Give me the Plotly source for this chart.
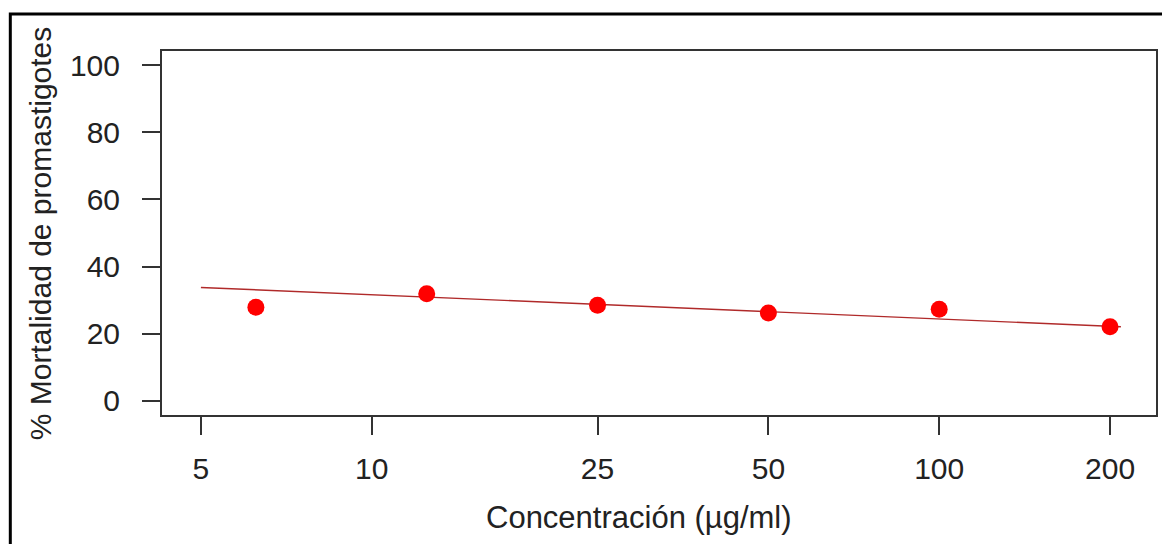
import math
import plotly.graph_objects as go

# Data
conc = [6.25, 12.5, 25, 50, 100, 200]
mortality = [27.9, 31.9, 28.5, 26.2, 27.3, 22.1]
fit_x = [5, 209]
fit_y = [33.8, 22.1]
x_ticks = [5, 10, 25, 50, 100, 200]
x_ticktext = ["5", "10", "25", "50", "100", "200"]
y_ticks = [0, 20, 40, 60, 80, 100]

FONT = "Liberation Sans, Arial, Helvetica, sans-serif"
TXT = "#222222"
OFF = 8  # page body margin
W, H = 1170 - OFF, 544 - OFF
L, T = 162 - OFF, 51 - OFF
R = W - (1158 - OFF)
B = H - (415 - OFF)
pw = W - L - R
ph = H - T - B

fig = go.Figure()
fig.add_trace(go.Scatter(x=fit_x, y=fit_y, mode="lines",
                         line=dict(color="#b02a2a", width=1.4),
                         showlegend=False, hoverinfo="skip"))
fig.add_trace(go.Scatter(x=conc, y=mortality, mode="markers",
                         marker=dict(color="#ff0000", size=17, line=dict(width=0)),
                         showlegend=False))

def px_x(p):  # page px -> paper x
    return (p - OFF - L) / pw

def px_y(p):  # page px -> paper y
    return (H - B - (p - OFF)) / ph

fig.update_layout(
    width=W, height=H,
    margin=dict(l=L, r=R, t=T, b=B, pad=0),
    paper_bgcolor="white", plot_bgcolor="white",
    font=dict(family=FONT, size=30, color=TXT),
    xaxis=dict(type="log", range=[math.log10(4.27), math.log10(241)],
               tickvals=x_ticks, ticktext=x_ticktext,
               ticks="outside", ticklen=18, tickwidth=1.5, tickcolor="#333",
               showline=True, linecolor="#333", linewidth=2, mirror=True,
               showgrid=False, zeroline=False, ticklabelstandoff=8,
               tickfont=dict(family=FONT, size=30, color=TXT)),
    yaxis=dict(range=[-4.17, 104.17], tickvals=y_ticks,
               ticks="outside", ticklen=18, tickwidth=1.5, tickcolor="#333",
               showline=True, linecolor="#333", linewidth=2, mirror=True,
               showgrid=False, zeroline=False, ticklabelstandoff=16,
               tickfont=dict(family=FONT, size=30, color=TXT)),
    annotations=[
        dict(text="Concentración (µg/ml)", xref="paper", yref="paper",
             x=px_x(640), y=px_y(518), xanchor="center", yanchor="middle",
             showarrow=False, font=dict(family=FONT, size=31, color=TXT)),
        dict(text="% Mortalidad de promastigotes", xref="paper", yref="paper",
             x=px_x(40), y=0.5, xanchor="center", yanchor="middle", textangle=-90,
             showarrow=False, font=dict(family=FONT, size=30, color=TXT)),
    ],
    shapes=[
        dict(type="rect", xref="paper", yref="paper",
             x0=px_x(10), x1=px_x(1200), y0=px_y(580), y1=px_y(14),
             line=dict(color="black", width=3), fillcolor="rgba(0,0,0,0)", layer="below"),
    ],
)

fig.write_html("out.html")
